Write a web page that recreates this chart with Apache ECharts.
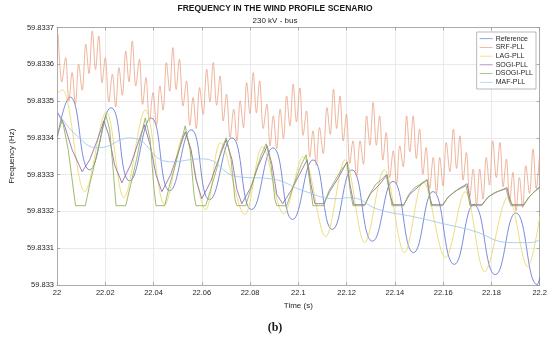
<!DOCTYPE html>
<html><head><meta charset="utf-8">
<script src="https://cdn.jsdelivr.net/npm/echarts@6/dist/echarts.min.js"></script>
<style>html,body{margin:0;padding:0;background:#fff}#c{width:550px;height:343px}</style>
</head><body><div id="c"></div>
<script>
// ---- data (time in s, frequency in Hz) ----
const xTicks = [22, 22.02, 22.04, 22.06, 22.08, 22.1, 22.12, 22.14, 22.16, 22.18, 22.2];
const yTicks = [59.833, 59.8331, 59.8332, 59.8333, 59.8334, 59.8335, 59.8336, 59.8337];
const seriesNames = ['Reference', 'SRF-PLL', 'LAG-PLL', 'SOGI-PLL', 'DSOGI-PLL', 'MAF-PLL'];

const refT = [22.0002,22.00545,22.0135,22.0224,22.0301,22.039,22.0467,22.0556,22.0632,22.0725,22.0806,22.0895,22.0976,22.1061,22.1141,22.1222,22.1307,22.1392,22.1477,22.1558,22.1646,22.1727,22.1816,22.1901,22.199,22.2];
const refV = [59.833403,59.833511,59.833313,59.833482,59.833283,59.833454,59.833256,59.833422,59.833232,59.8334,59.833205,59.833373,59.833178,59.83334,59.833151,59.833313,59.833119,59.833282,59.833088,59.833254,59.833056,59.833218,59.833028,59.833196,59.833001,59.83302];

const srfT = [
22.00048,22.00202,22.00356,22.00493,22.00626,22.00760,22.00897,22.01042,22.01192,22.01325,
22.01463,22.01596,22.01729,22.01867,22.02000,22.02149,22.02295,22.02432,22.02566,22.02707,
22.02848,22.02982,22.03119,22.03265,22.03414,22.03547,22.03685,22.03830,22.03980,22.04121,
22.04263,22.04396,22.04533,22.04667,22.04800,22.04937,22.05071,22.05220,22.05366,22.05503,
22.05636,22.05770,22.05907,22.06053,22.06202,22.06335,22.06473,22.06614,22.06756,22.06889,
22.07022,22.07172,22.07321,22.07455,22.07588,22.07725,22.07859,22.07992,22.08129,22.08263,
22.08396,22.08545,22.08695,22.08828,22.08962,22.09103,22.09244,22.09382,22.09515,22.09648,
22.09786,22.09923,22.10061,22.10198,22.10335,22.10473,22.10606,22.10739,22.10877,22.11030,
22.11184,22.11321,22.11455,22.11588,22.11725,22.11859,22.11992,22.12129,22.12263,22.12412,
22.12558,22.12695,22.12828,22.12962,22.13099,22.13232,22.13366,22.13503,22.13636,22.13786,
22.13931,22.14069,22.14202,22.14343,22.14485,22.14618,22.14756,22.14889,22.15022,22.15160,
22.15293,22.15442,22.15588,22.15725,22.15859,22.15992,22.16129,22.16275,22.16424,22.16557,
22.16695,22.16828,22.16961,22.17103,22.17244,22.17382,22.17515,22.17648,22.17786,22.17919,
22.18053,22.18202,22.18352,22.18485,22.18618,22.18756,22.18889,22.19022,22.19160,22.19293,
22.19426,22.19576,22.19725,22.19858,22.19992];
const srfV = [
59.8336815,59.8335521,59.8336180,59.8335000,59.8335773,59.8334910,59.8336001,59.8335296,59.8336544,59.8335746,
59.8336905,59.8335860,59.8336769,59.8335497,59.8336180,59.8334978,59.8335730,59.8334843,59.8335909,59.8335157,
59.8336362,59.8335521,59.8336634,59.8335407,59.8336137,59.8334910,59.8335638,59.8334457,59.8335231,59.8334343,
59.8335412,59.8334750,59.8336045,59.8335271,59.8336452,59.8335318,59.8336137,59.8334864,59.8335548,59.8334343,
59.8335095,59.8334254,59.8335366,59.8334639,59.8335866,59.8334978,59.8336045,59.8334886,59.8335684,59.8334457,
59.8335187,59.8334007,59.8334780,59.8333915,59.8335005,59.8334275,59.8335502,59.8334661,59.8335773,59.8334683,
59.8335548,59.8334254,59.8334916,59.8333779,59.8334598,59.8333711,59.8334780,59.8333982,59.8335141,59.8334322,
59.8335459,59.8334430,59.8335358,59.8334069,59.8334734,59.8333486,59.8334191,59.8333258,59.8334281,59.8333575,
59.8334824,59.8334096,59.8335323,59.8334254,59.8335141,59.8333915,59.8334645,59.8333304,59.8333920,59.8332943,
59.8333920,59.8333282,59.8334598,59.8333801,59.8334959,59.8333801,59.8334598,59.8333394,59.8334145,59.8332919,
59.8333649,59.8332740,59.8333784,59.8333214,59.8334598,59.8333621,59.8334598,59.8333440,59.8334237,59.8333011,
59.8333738,59.8332625,59.8333467,59.8332490,59.8333467,59.8332693,59.8333874,59.8333079,59.8334237,59.8333168,
59.8334056,59.8332851,59.8333602,59.8332400,59.8333152,59.8332175,59.8333152,59.8332332,59.8333467,59.8332715,
59.8333920,59.8332919,59.8333874,59.8332672,59.8333423,59.8332265,59.8333060,59.8332015,59.8332924,59.8332105,
59.8333242,59.8332490,59.8333695,59.8332625,59.8333513];

const lagT = [22.0002,22.0022,22.0115,22.0204,22.0277,22.0366,22.0446,22.0527,22.0616,22.0677,22.0778,22.0851,22.0939,22.102,22.1113,22.1194,22.1275,22.1356,22.144,22.1517,22.161,22.1691,22.1772,22.1869,22.195,22.2];
const lagV = [59.8335222,59.8335304,59.8332536,59.8334707,59.8332373,59.8334761,59.8332183,59.8334083,59.8332047,59.8333866,59.8331912,59.8333757,59.8331939,59.8333486,59.8331315,59.8333404,59.8331152,59.8333133,59.8330881,59.8332807,59.8330745,59.8332536,59.8330365,59.83324,59.8330501,59.8331857];

const sogiT = [22.0002,22.00303,22.00626,22.01042,22.01354,22.01677,22.01939,22.02141,22.02384,22.02687,
22.03051,22.03333,22.03616,22.03859,22.04101,22.04343,22.04707,22.0499,22.05313,22.05556,
22.05758,22.06,22.06364,22.06687,22.0701,22.07253,22.07455,22.07657,22.0802,22.08343,
22.08707,22.08909,22.09111,22.09354,22.09717,22.1004,22.10364,22.10525,22.10687,22.11051,
22.11293,22.11657,22.1202,22.12141,22.12303,22.12748,22.1299,22.13354,22.13677,22.13798,
22.13919,22.14364,22.14606,22.1497,22.15333,22.15455,22.15535,22.1598,22.16222,22.16586,
22.1699,22.17111,22.17152,22.17596,22.17879,22.18242,22.18646,22.18768,22.18848,22.19333,
22.19576,22.19818,22.2];
const sogiV = [59.833468,59.8334354,59.8333676,59.8333079,59.8333404,59.8333947,59.8334463,59.8334083,59.8333269,59.833278,
59.8333269,59.8333811,59.8334354,59.8333811,59.8332997,59.8332536,59.8332997,59.833354,59.8334164,59.8333676,
59.8332862,59.8332346,59.8332808,59.8333404,59.8333947,59.8333404,59.833259,59.833221,59.8332644,59.8333242,
59.8333784,59.8333269,59.8332455,59.833221,59.833259,59.8332997,59.8333404,59.8332726,59.833221,59.833221,
59.8332536,59.8332916,59.833335,59.8332726,59.8332183,59.8332183,59.8332482,59.8332726,59.8332997,59.8332455,
59.8332183,59.8332183,59.8332455,59.8332672,59.8332862,59.8332373,59.8332183,59.8332183,59.83324,59.833259,
59.8332753,59.8332319,59.8332183,59.8332183,59.83324,59.8332536,59.8332644,59.8332319,59.8332183,59.8332183,
59.83324,59.8332563,59.8332672];

const dsogiT = [22.0002,22.00222,22.00465,22.00768,22.01172,22.01354,22.01596,22.01838,22.0202,22.02182,
22.02343,22.02444,22.02848,22.03051,22.03293,22.03495,22.03657,22.03859,22.0402,22.04101,
22.04465,22.04667,22.04909,22.05111,22.05313,22.05515,22.05677,22.05758,22.06162,22.06364,
22.06606,22.06808,22.0701,22.07212,22.07374,22.07455,22.07818,22.0802,22.08263,22.08465,
22.08667,22.08869,22.0903,22.09111,22.09515,22.09717,22.09919,22.10121,22.10323,22.10485,
22.10606,22.11051,22.11253,22.11535,22.11778,22.1202,22.12141,22.12263,22.12748,22.1295,
22.13192,22.13434,22.13636,22.13798,22.13879,22.14364,22.14566,22.14809,22.15091,22.15333,
22.15455,22.15495,22.1598,22.16182,22.16465,22.16707,22.16949,22.17071,22.17111,22.17596,
22.17838,22.18121,22.18364,22.18606,22.18727,22.18808,22.19333,22.19535,22.19778,22.2];
const dsogiV = [59.8334083,59.833449,59.8333676,59.8332156,59.8332156,59.8332726,59.8333404,59.8334083,59.8334626,59.8334218,
59.8332997,59.8332156,59.8332156,59.8332726,59.8333404,59.8334083,59.8334544,59.8333947,59.833259,59.8332156,
59.8332156,59.8332726,59.8333269,59.8333811,59.8334327,59.8333676,59.8332455,59.8332156,59.8332156,59.833259,
59.8333133,59.8333676,59.8334001,59.8333404,59.8332319,59.8332156,59.8332156,59.833259,59.8333133,59.833354,
59.8333839,59.8333269,59.8332319,59.8332156,59.8332156,59.8332536,59.8332916,59.8333269,59.833354,59.8332726,
59.8332156,59.8332156,59.8332536,59.8332862,59.8333133,59.8333323,59.833259,59.8332156,59.8332156,59.8332455,
59.8332726,59.8332862,59.8332997,59.8332455,59.8332156,59.8332156,59.8332455,59.8332644,59.8332753,59.8332862,
59.8332373,59.8332156,59.8332156,59.8332373,59.8332536,59.8332617,59.8332699,59.8332319,59.8332156,59.8332156,
59.8332373,59.8332509,59.8332563,59.8332617,59.8332319,59.8332156,59.8332156,59.8332373,59.8332536,59.8332644];

const mafT = [22.0002,22.00828,22.01717,22.0305,22.04667,22.0604,22.07495,22.0883,22.1032,22.11535,22.1214,22.1335,22.1477,22.16,22.1721,22.1881,22.1962,22.2];
const mafV = [59.8334707,59.8334056,59.833373,59.8334001,59.833335,59.8333431,59.8332943,59.8332889,59.8332536,59.8332346,59.8332373,59.8332047,59.8331857,59.8331667,59.8331478,59.8331152,59.8331152,59.8331233];

// ---- chart ----
const colors = ['#5a6fd0', '#e89572', '#e8d463', '#8a5ea2', '#86aa48', '#9cc3ec'];
const pair = (t, v) => t.map((x, i) => [x, v[i]]);
const seriesData = [pair(refT, refV), pair(srfT, srfV), pair(lagT, lagV), pair(sogiT, sogiV), pair(dsogiT, dsogiV), pair(mafT, mafV)];
const smoothing = [0.5, 0.35, 0.35, 0, 0, 0.5];
const widths = [0.8, 0.7, 0.8, 0.8, 0.8, 0.8];

const chart = echarts.init(document.getElementById('c'), null, {renderer: 'canvas'});
const font = 'Liberation Sans, Arial, Helvetica, sans-serif';
const axisCommon = {
  axisLine: {show: true, lineStyle: {color: '#9a9a9a', width: 0.8}},
  axisTick: {show: true, inside: true, length: 3, lineStyle: {color: '#9a9a9a', width: 0.8}},
};
const option = {
  animation: false,
  backgroundColor: '#fff',
  color: colors,
  grid: {left: 45, right: 10, top: 27.5, bottom: 58, containLabel: false},
  legend: {
    data: seriesNames.map(n => ({name: n, icon: 'path://M0,0 L20,0 L20,1 L0,1 Z'})),
    orient: 'vertical', right: 14, top: 32, itemWidth: 13, itemHeight: 1, itemGap: 1.2,
    padding: [3, 3, 3, 3], backgroundColor: '#fff', borderColor: '#8a8a8a', borderWidth: 0.6,
    textStyle: {fontSize: 7, fontFamily: font, color: '#262626', lineHeight: 7.5, padding: [0, 0, 0, -2]}
  },
  xAxis: [
    Object.assign({type: 'value', min: 22, max: 22.2, interval: 0.02, position: 'bottom',
      name: 'Time (s)', nameLocation: 'middle', nameGap: 17,
      nameTextStyle: {fontSize: 8, fontFamily: font, color: '#262626'},
      axisLabel: {fontSize: 7.5, fontFamily: font, color: '#262626', margin: 4,
        formatter: v => String(+v.toFixed(2))},
      splitLine: {show: true, lineStyle: {color: '#e4e4e4', width: 0.8}}}, axisCommon),
    Object.assign({type: 'value', min: 22, max: 22.2, interval: 0.02, position: 'top',
      axisLabel: {show: false}, splitLine: {show: false}}, axisCommon)
  ],
  yAxis: [
    Object.assign({type: 'value', min: 59.833, max: 59.8337, interval: 0.0001, position: 'left',
      name: 'Frequency (Hz)', nameLocation: 'middle', nameGap: 38,
      nameTextStyle: {fontSize: 8, fontFamily: font, color: '#262626'},
      axisLabel: {fontSize: 7.5, fontFamily: font, color: '#262626', margin: 3,
        formatter: v => String(+v.toFixed(4))},
      splitLine: {show: true, lineStyle: {color: '#e4e4e4', width: 0.8}}}, axisCommon),
    Object.assign({type: 'value', min: 59.833, max: 59.8337, interval: 0.0001, position: 'right',
      axisLabel: {show: false}, splitLine: {show: false}}, axisCommon)
  ],
  graphic: [
    {type: 'text', left: 'center', top: 4, style: {text: 'FREQUENCY IN THE WIND PROFILE SCENARIO', font: 'bold 8.5px ' + font, fill: '#1a1a1a'}, x: 3},
    {type: 'text', left: 'center', top: 17, style: {text: '230 kV - bus', font: '8px ' + font, fill: '#262626'}, x: 3},
    {type: 'text', left: 'center', top: 322, style: {text: '(b)', font: 'bold 12px "Liberation Serif", "DejaVu Serif", serif', fill: '#1a1a1a'}, x: 3}
  ],
  series: seriesNames.map((n, i) => ({
    name: n, type: 'line', data: seriesData[i], showSymbol: false, symbol: 'none',
    smooth: smoothing[i], lineStyle: {width: widths[i], color: colors[i]}, itemStyle: {color: colors[i]},
    clip: true, z: 2 + i
  }))
};
chart.setOption(option);
</script></body></html>
